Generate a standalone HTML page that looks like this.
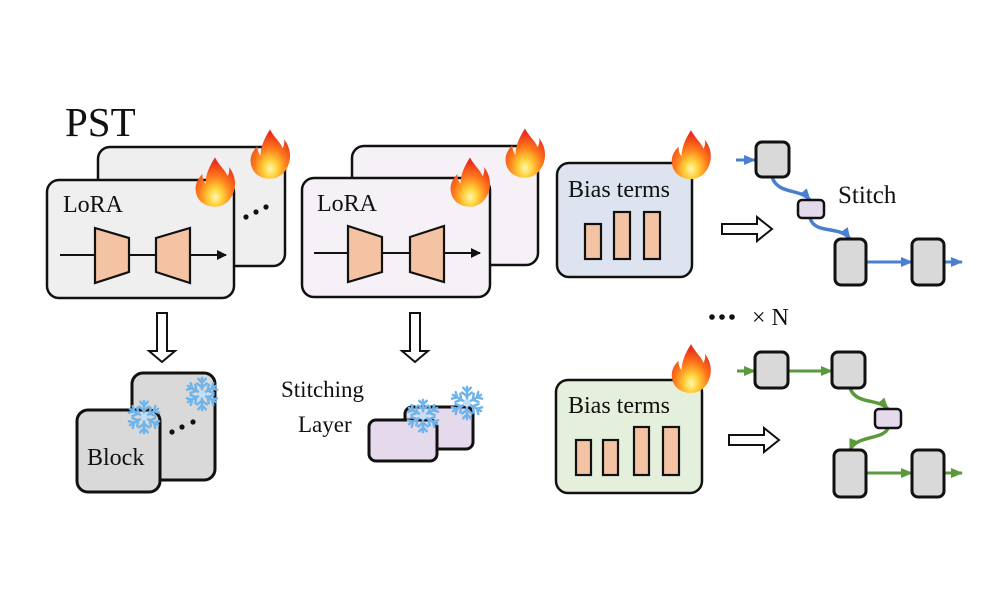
<!DOCTYPE html>
<html><head><meta charset="utf-8"><style>
html,body{margin:0;padding:0;background:#fff;}
svg{display:block;}
text{font-family:"Liberation Serif",serif;fill:#111;}
</style></head><body>
<svg width="1000" height="600" viewBox="0 0 1000 600" xmlns="http://www.w3.org/2000/svg">
<defs>
<radialGradient id="fg" cx="0.5" cy="0.8" r="0.7">
<stop offset="0" stop-color="#fff6b0"/><stop offset="0.25" stop-color="#ffd23a"/><stop offset="0.6" stop-color="#ff7a1a"/><stop offset="1" stop-color="#e8301c"/>
</radialGradient>
<symbol id="fire" viewBox="0 0 40 50">
<path d="M20 2 C24 10 30 14 32 20 C34 16 34 13 33 11 C39 18 41 28 37 37 C33 46 26 49 20 49 C12 49 4 45 2 36 C0 28 4 22 8 18 C8 22 9 25 11 27 C11 18 15 10 20 2 Z" fill="url(#fg)"/>
</symbol>
<symbol id="snow" viewBox="-20 -20 40 40">
<g stroke="#6fb4ea" stroke-width="2.6" stroke-linecap="round" fill="none">
<g id="arm"><line x1="0" y1="0" x2="0" y2="-17"/><line x1="0" y1="-7" x2="-5" y2="-11"/><line x1="0" y1="-7" x2="5" y2="-11"/><line x1="0" y1="-12" x2="-4" y2="-16"/><line x1="0" y1="-12" x2="4" y2="-16"/></g>
<use href="#arm" transform="rotate(60)"/><use href="#arm" transform="rotate(120)"/><use href="#arm" transform="rotate(180)"/><use href="#arm" transform="rotate(240)"/><use href="#arm" transform="rotate(300)"/>
</g>
<circle r="4" fill="#bfe0fa"/>
</symbol>
<marker id="ak" markerWidth="10" markerHeight="10" refX="9" refY="5" orient="auto" markerUnits="userSpaceOnUse"><path d="M0 0 L10 5 L0 10 Z" fill="#111"/></marker>
<marker id="ab" markerWidth="12" markerHeight="10" refX="11" refY="5" orient="auto" markerUnits="userSpaceOnUse"><path d="M0 0 L12 5 L0 10 Z" fill="#4a7fd0"/></marker>
<marker id="ag" markerWidth="12" markerHeight="10" refX="11" refY="5" orient="auto" markerUnits="userSpaceOnUse"><path d="M0 0 L12 5 L0 10 Z" fill="#5a9a3c"/></marker>
</defs>

<text x="65" y="136" font-size="41">PST</text>

<!-- left LoRA -->
<rect x="98" y="147" width="187" height="119" rx="12" fill="#efefef" stroke="#111" stroke-width="2.5"/>
<circle cx="246" cy="217" r="2.6" fill="#111"/><circle cx="256" cy="212" r="2.6" fill="#111"/><circle cx="266" cy="207" r="2.6" fill="#111"/>
<rect x="47" y="180" width="187" height="118" rx="12" fill="#efefef" stroke="#111" stroke-width="2.5"/>
<text x="63" y="212" font-size="24">LoRA</text>
<line x1="60" y1="255" x2="226" y2="255" stroke="#111" stroke-width="2" marker-end="url(#ak)"/>
<path d="M95 228 L129 238 L129 272 L95 283 Z" fill="#f4c3a4" stroke="#111" stroke-width="2.2"/>
<path d="M156 238 L190 228 L190 283 L156 272 Z" fill="#f4c3a4" stroke="#111" stroke-width="2.2"/>
<use href="#fire" x="249" y="127" width="42" height="53"/>
<use href="#fire" x="194" y="155" width="42" height="53"/>

<!-- middle LoRA -->
<rect x="352" y="146" width="186" height="119" rx="12" fill="#f5f1f7" stroke="#111" stroke-width="2.5"/>
<rect x="302" y="178" width="188" height="119" rx="12" fill="#f5f1f7" stroke="#111" stroke-width="2.5"/>
<text x="317" y="211" font-size="24">LoRA</text>
<line x1="314" y1="253" x2="480" y2="253" stroke="#111" stroke-width="2" marker-end="url(#ak)"/>
<path d="M348 226 L382 237 L382 272 L348 282 Z" fill="#f4c3a4" stroke="#111" stroke-width="2.2"/>
<path d="M410 237 L444 226 L444 282 L410 272 Z" fill="#f4c3a4" stroke="#111" stroke-width="2.2"/>
<use href="#fire" x="504" y="126" width="42" height="53"/>
<use href="#fire" x="449" y="155" width="42" height="53"/>

<!-- down arrows -->
<path d="M157 313 H167 V351 H175 L162 362 L149 351 H157 Z" fill="#fff" stroke="#111" stroke-width="2"/>
<path d="M410 313 H420 V351 H428 L415 362 L402 351 H410 Z" fill="#fff" stroke="#111" stroke-width="2"/>

<!-- blocks -->
<rect x="132" y="373" width="83" height="107" rx="11" fill="#d9d9d9" stroke="#111" stroke-width="3"/>
<circle cx="172" cy="432" r="2.6" fill="#111"/><circle cx="182" cy="427" r="2.6" fill="#111"/><circle cx="193" cy="422" r="2.6" fill="#111"/>
<rect x="77" y="410" width="83" height="82" rx="11" fill="#d9d9d9" stroke="#111" stroke-width="3"/>
<text x="87" y="465" font-size="24">Block</text>
<use href="#snow" x="183" y="375" width="38" height="38"/>
<use href="#snow" x="125" y="398" width="38" height="38"/>

<!-- stitching layer -->
<text x="281" y="397" font-size="23">Stitching</text>
<text x="298" y="432" font-size="23">Layer</text>
<rect x="405" y="407" width="68" height="42" rx="7" fill="#e5d9ec" stroke="#111" stroke-width="3"/>
<rect x="369" y="420" width="68" height="41" rx="7" fill="#e5d9ec" stroke="#111" stroke-width="3"/>
<use href="#snow" x="448" y="384" width="38" height="38"/>
<use href="#snow" x="404" y="397" width="38" height="38"/>

<!-- top bias -->
<rect x="557" y="163" width="135" height="114" rx="12" fill="#dde4f0" stroke="#111" stroke-width="2.5"/>
<text x="568" y="197" font-size="24">Bias terms</text>
<rect x="585" y="224" width="16" height="35" fill="#f4c3a4" stroke="#111" stroke-width="2.2"/>
<rect x="614" y="212" width="16" height="47" fill="#f4c3a4" stroke="#111" stroke-width="2.2"/>
<rect x="644" y="212" width="16" height="47" fill="#f4c3a4" stroke="#111" stroke-width="2.2"/>
<use href="#fire" x="669" y="128" width="44" height="52"/>
<path d="M722 224 H757 V217 L772 229 L757 241 V234 H722 Z" fill="#fff" stroke="#111" stroke-width="2"/>

<!-- top stitch diagram -->
<line x1="736" y1="160" x2="755" y2="160" stroke="#4a7fd0" stroke-width="3" marker-end="url(#ab)"/>
<path d="M772 177 C778 195 800 188 810 200" stroke="#4a7fd0" stroke-width="3.5" fill="none" marker-end="url(#ab)"/>
<path d="M810 218 C815 235 840 225 850 239" stroke="#4a7fd0" stroke-width="3.5" fill="none" marker-end="url(#ab)"/>
<line x1="866" y1="262" x2="912" y2="262" stroke="#4a7fd0" stroke-width="3" marker-end="url(#ab)"/>
<line x1="944" y1="262" x2="962" y2="262" stroke="#4a7fd0" stroke-width="3" marker-end="url(#ab)"/>
<rect x="756" y="142" width="33" height="35" rx="6" fill="#d9d9d9" stroke="#111" stroke-width="3"/>
<rect x="798" y="200" width="26" height="18" rx="4" fill="#e5d9ec" stroke="#111" stroke-width="2.5"/>
<rect x="835" y="239" width="31" height="46" rx="6" fill="#d9d9d9" stroke="#111" stroke-width="3"/>
<rect x="912" y="239" width="32" height="46" rx="6" fill="#d9d9d9" stroke="#111" stroke-width="3"/>
<text x="838" y="203" font-size="25">Stitch</text>

<!-- x N -->
<circle cx="712" cy="317" r="2.8" fill="#111"/><circle cx="722" cy="317" r="2.8" fill="#111"/><circle cx="732" cy="317" r="2.8" fill="#111"/>
<text x="752" y="325" font-size="24">× N</text>

<!-- bottom bias -->
<rect x="556" y="380" width="146" height="113" rx="12" fill="#e4efdc" stroke="#111" stroke-width="2.5"/>
<text x="568" y="413" font-size="24">Bias terms</text>
<rect x="576" y="440" width="15" height="35" fill="#f4c3a4" stroke="#111" stroke-width="2.2"/>
<rect x="603" y="440" width="15" height="35" fill="#f4c3a4" stroke="#111" stroke-width="2.2"/>
<rect x="634" y="427" width="15" height="48" fill="#f4c3a4" stroke="#111" stroke-width="2.2"/>
<rect x="663" y="427" width="16" height="48" fill="#f4c3a4" stroke="#111" stroke-width="2.2"/>
<use href="#fire" x="669" y="342" width="44" height="52"/>
<path d="M729 435 H764 V428 L779 440 L764 452 V445 H729 Z" fill="#fff" stroke="#111" stroke-width="2"/>

<!-- bottom stitch diagram -->
<line x1="737" y1="371" x2="755" y2="371" stroke="#5a9a3c" stroke-width="3" marker-end="url(#ag)"/>
<line x1="788" y1="371" x2="832" y2="371" stroke="#5a9a3c" stroke-width="3" marker-end="url(#ag)"/>
<path d="M850 388 C856 405 878 398 888 409" stroke="#5a9a3c" stroke-width="3.5" fill="none" marker-end="url(#ag)"/>
<path d="M888 428 C884 440 856 435 850 450" stroke="#5a9a3c" stroke-width="3.5" fill="none" marker-end="url(#ag)"/>
<line x1="866" y1="473" x2="912" y2="473" stroke="#5a9a3c" stroke-width="3" marker-end="url(#ag)"/>
<line x1="944" y1="473" x2="962" y2="473" stroke="#5a9a3c" stroke-width="3" marker-end="url(#ag)"/>
<rect x="755" y="352" width="33" height="36" rx="6" fill="#d9d9d9" stroke="#111" stroke-width="3"/>
<rect x="832" y="352" width="33" height="36" rx="6" fill="#d9d9d9" stroke="#111" stroke-width="3"/>
<rect x="875" y="409" width="26" height="19" rx="4" fill="#e5d9ec" stroke="#111" stroke-width="2.5"/>
<rect x="834" y="450" width="32" height="47" rx="6" fill="#d9d9d9" stroke="#111" stroke-width="3"/>
<rect x="912" y="450" width="32" height="47" rx="6" fill="#d9d9d9" stroke="#111" stroke-width="3"/>
</svg>
</body></html>
